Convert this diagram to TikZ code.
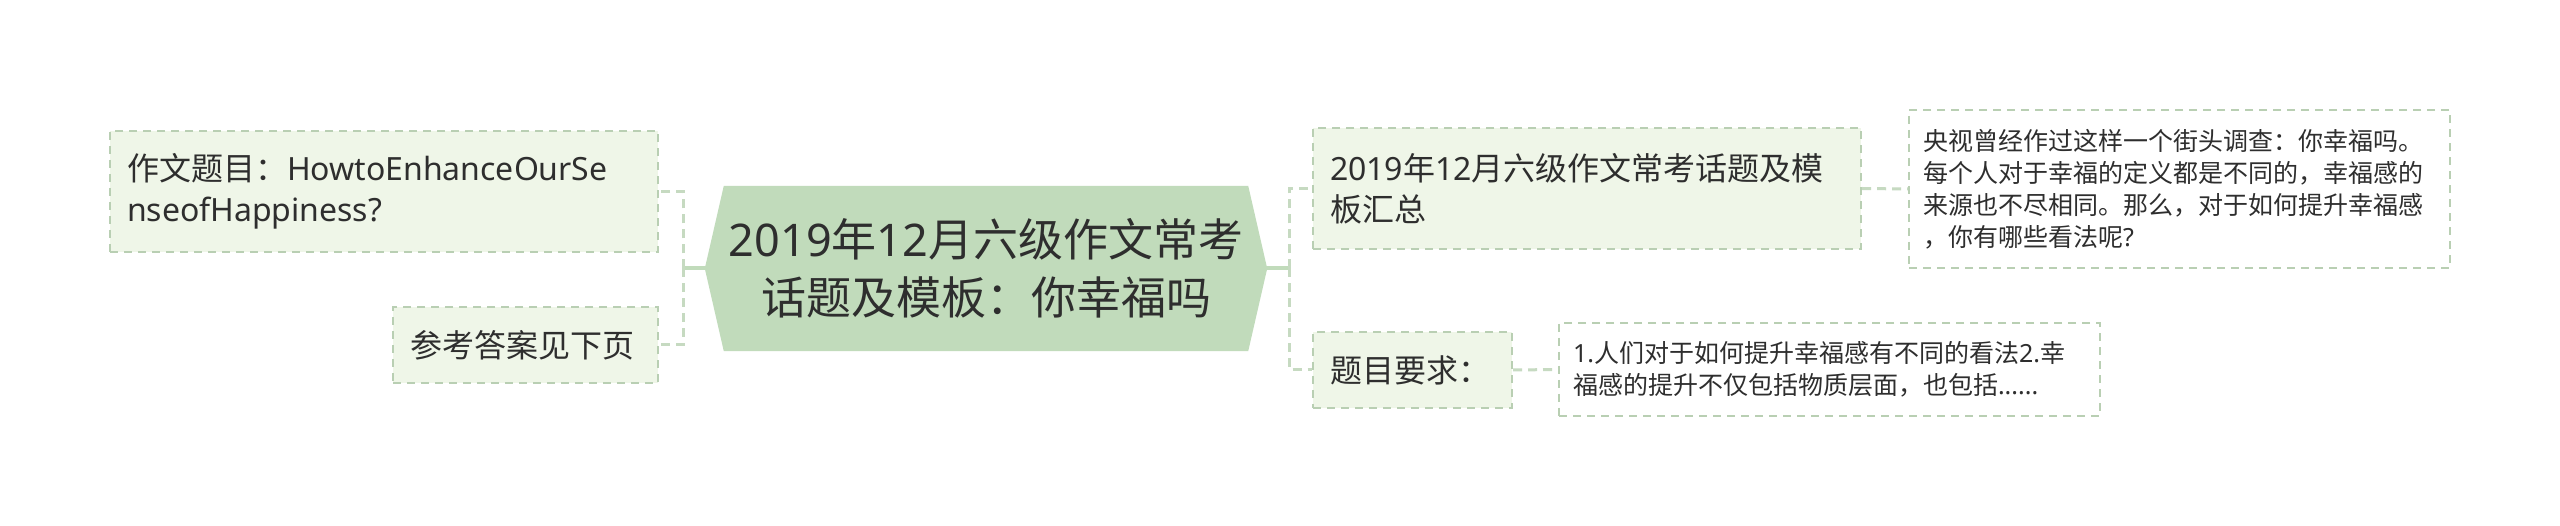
\documentclass[tikz,border=0pt]{standalone}
\usepackage{fontspec}
\setmainfont{Noto Sans CJK SC}
\newfontfamily\lat{Noto Sans}
\usetikzlibrary{backgrounds}
\definecolor{rootfill}{HTML}{C1DBBB}
\definecolor{leaffill}{HTML}{EFF6E8}
\definecolor{boxline}{HTML}{B9CFB3}
\definecolor{linkline}{HTML}{C6DAC1}
\definecolor{textgray}{HTML}{2E2E2E}
\tikzset{every node/.style={text=textgray, inner sep=0pt},
  root/.style={align=center, font=\fontsize{45}{58}\selectfont,
    minimum width=524pt, minimum height=165pt, text width=524pt},
  leaf/.style={draw=boxline, fill=leaffill, line width=2pt,
    dash pattern=on 8pt off 6pt, align=left, inner xsep=17pt,
    font=\fontsize{32}{41}\selectfont},
  note/.style={draw=boxline, fill=white, line width=2pt,
    dash pattern=on 8pt off 6pt, align=left, inner xsep=14pt,
    font=\fontsize{25}{32}\selectfont, text width=513pt},
  trunk/.style={draw=rootfill, line width=4pt},
  branch/.style={draw=linkline, line width=3pt, dash pattern=on 9pt off 6pt}}

\begin{document}
\begin{tikzpicture}[x=1pt, y=-1pt]
  \useasboundingbox (0,0) rectangle (2560,526);
  % central topic
  \node[root] (root) at (986,268.5)
    {{\lat 2019}年{\lat 12}月六级作文常考\\话题及模板：你幸福吗};
  \begin{scope}[on background layer]
    \fill[white] (0,0) rectangle (2560,526);
    \fill[rootfill] (root.north west) -- (root.north east) -- ([xshift=19pt]root.east)
      -- (root.south east) -- (root.south west) -- ([xshift=-19pt]root.west) -- cycle;
  \end{scope}
  % left side
  \node[leaf, text width=514pt, minimum height=121pt] (q1) at (384,191.5)
    {作文题目：{\lat HowtoEnhanceOurSe}\\{\lat nseofHappiness?}};
  \node[leaf, text width=231pt, minimum height=76pt] (q2) at (525.5,345) {参考答案见下页};
  \coordinate (lj) at (683,268.5);
  \draw[trunk] (root.west) -- (lj);
  \draw[branch] (lj) |- (q1.east);
  \draw[branch] (lj) |- (q2.east);
  % right side
  \node[leaf, text width=514pt, minimum height=121pt] (a1) at (1587,188.5)
    {{\lat 2019}年{\lat 12}月六级作文常考话题及模\\板汇总};
  \node[leaf, text width=165pt, minimum height=76pt] (a2) at (1412.5,370) {题目要求：};
  \coordinate (rj) at (1289,268.5);
  \draw[trunk] (root.east) -- (rj);
  \draw[branch] (rj) |- (a1.west);
  \draw[branch] (rj) |- (a2.west);
  \node[note, minimum height=158pt] (d1) at (2179.5,189)
    {央视曾经作过这样一个街头调查：你幸福吗。\\每个人对于幸福的定义都是不同的，幸福感的\\来源也不尽相同。那么，对于如何提升幸福感\\，你有哪些看法呢{\lat ?}};
  \node[note, minimum height=93pt] (d2) at (1829.5,369.5)
    {{\lat 1.}人们对于如何提升幸福感有不同的看法{\lat 2.}幸\\福感的提升不仅包括物质层面，也包括{\lat ......}};
  \draw[branch] (a1.east) -- (d1.west);
  \draw[branch] (a2.east) -- (d2.west);
\end{tikzpicture}
\end{document}
